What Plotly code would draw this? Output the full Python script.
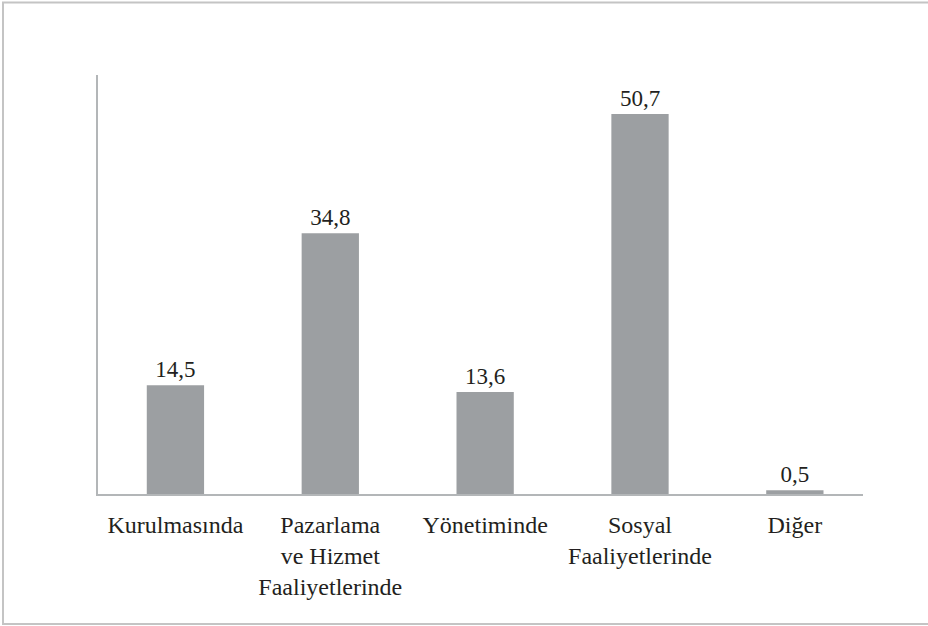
import plotly.graph_objects as go

# data
categories = ["Kurulmasında", "Pazarlama<br>ve Hizmet<br>Faaliyetlerinde", "Yönetiminde",
              "Sosyal<br>Faaliyetlerinde", "Diğer"]
values = [14.5, 34.8, 13.6, 50.7, 0.5]
value_labels = ["14,5", "34,8", "13,6", "50,7", "0,5"]

W, H = 928, 626
left, right, top, bottom = 98, 65, 75, 132  # plot area in pixels

serif = "Liberation Serif, Times New Roman, serif"
text_color = "#231f20"
bar_color = "#9c9fa2"
axis_color = "#b3b6b8"

fig = go.Figure()

fig.add_trace(go.Bar(
    x=list(range(len(categories))),
    y=values,
    width=0.37,
    marker=dict(color=bar_color, line=dict(width=0)),
    text=value_labels,
    textposition="outside",
    textfont=dict(family=serif, size=23, color=text_color),
    cliponaxis=False,
))

# frame around the whole chart (in paper coords of the plot area)
pw = W - left - right
ph = H - top - bottom
fig.add_shape(
    type="rect", xref="paper", yref="paper",
    x0=(3 - left) / pw, x1=(940 - left) / pw,
    y0=(H - bottom - 624) / ph, y1=(H - bottom - 2.5) / ph,
    line=dict(color="#c4c4c4", width=2),
    fillcolor="rgba(0,0,0,0)",
)

fig.update_layout(
    width=W, height=H,
    margin=dict(l=left, r=right, t=top, b=bottom),
    paper_bgcolor="white", plot_bgcolor="white",
    showlegend=False,
    font=dict(family=serif, size=23, color=text_color),
    xaxis=dict(
        tickmode="array",
        tickvals=list(range(len(categories))),
        ticktext=categories,
        range=[-0.5, 4.44],
        showline=True, linecolor=axis_color, linewidth=1.5,
        showgrid=False, zeroline=False, ticks="",
        ticklabelstandoff=8,
        tickfont=dict(family=serif, size=24, color=text_color),
    ),
    yaxis=dict(
        range=[0, 55.9],
        showline=True, linecolor=axis_color, linewidth=1.5,
        showgrid=False, zeroline=False, ticks="", showticklabels=False,
    ),
)

# drop the default page margin so the figure sits at the window corner
fig.write_html("out.html", config={"displayModeBar": False},
               post_script="document.body.style.margin='0';")
